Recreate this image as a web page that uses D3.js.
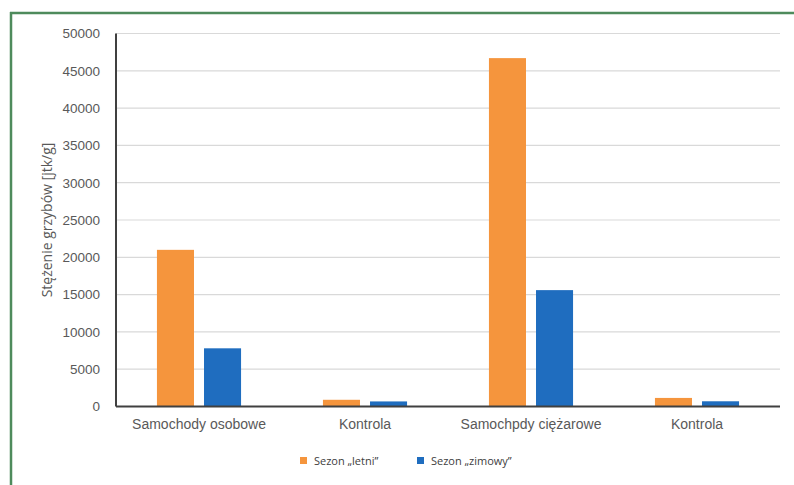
<!DOCTYPE html>
<html><head><meta charset="utf-8">
<script src="https://cdn.jsdelivr.net/npm/d3@7"></script>
<style>body{margin:0;background:#fff;}svg{display:block;font-family:"Open Sans","Liberation Sans",sans-serif;}</style>
</head><body><svg id="c" width="794" height="485"></svg>
<script>
const categories = ["Samochody osobowe", "Kontrola", "Samochpdy ciężarowe", "Kontrola "];
const seriesNames = ["Sezon \u201eletni\u201d", "Sezon \u201ezimowy\u201d"];
const summer = [21000, 900, 46700, 1150];
const winter = [7800, 680, 15600, 700];
const yTicks = [0, 5000, 10000, 15000, 20000, 25000, 30000, 35000, 40000, 45000, 50000];
const colors = ["#F5953D", "#1F6DBF"];

const svg = d3.select("#c");
// frame
svg.append("line").attr("x1",10).attr("x2",794).attr("y1",13).attr("y2",13).attr("stroke","#4E8B5C").attr("stroke-width",2.5);
svg.append("line").attr("x1",11).attr("x2",11).attr("y1",12).attr("y2",485).attr("stroke","#4E8B5C").attr("stroke-width",2.5);

const x0 = 116, x1 = 780, yTop = 33.5, yBot = 406.5;
const x = d3.scaleBand().domain(categories).range([x0, x1]).paddingInner(0).paddingOuter(0);
const y = d3.scaleLinear().domain([0, 50000]).range([yBot, yTop]);
const xs = d3.scaleBand().domain([0,1]).range([0, x.bandwidth()]).paddingInner(0.213).paddingOuter(0.87);

// grid
svg.append("g").selectAll("line").data(yTicks.filter(d=>d>0)).join("line")
  .attr("x1", x0).attr("x2", x1).attr("y1", d=>y(d)).attr("y2", d=>y(d))
  .attr("stroke", "#D9D9D9").attr("stroke-width", 1.2);

// y axis labels
const yAxis = d3.axisLeft(y).tickValues(yTicks).tickSize(0).tickPadding(16).tickFormat(d3.format("d"));
const ga = svg.append("g").attr("transform", `translate(${x0},0)`).call(yAxis);
ga.select(".domain").remove();
ga.selectAll("text").attr("fill", "#595959").style("font-size", "13.5px");

// bars
const data = categories.map((c,i)=>({c, v:[summer[i], winter[i]]}));
svg.append("g").selectAll("g").data(data).join("g")
  .attr("transform", d=>`translate(${x(d.c)},0)`)
  .selectAll("rect").data(d=>d.v.map((v,j)=>({v,j}))).join("rect")
  .attr("x", d=>xs(d.j)).attr("width", xs.bandwidth())
  .attr("y", d=>y(d.v)).attr("height", d=>yBot - y(d.v))
  .attr("fill", d=>colors[d.j]);

// axis lines
svg.append("line").attr("x1",x0).attr("x2",x0).attr("y1",yTop).attr("y2",yBot).attr("stroke","#404040").attr("stroke-width",2);
svg.append("line").attr("x1",x0).attr("x2",x1).attr("y1",yBot).attr("y2",yBot).attr("stroke","#404040").attr("stroke-width",2);

// x labels
const xAxis = d3.axisBottom(x).tickSize(0).tickPadding(13);
const gx = svg.append("g").attr("transform", `translate(0,${yBot})`).call(xAxis);
gx.select(".domain").remove();
gx.selectAll("text").attr("fill", "#595959").style("font-size", "14px");

// y title
svg.append("text").attr("transform", `translate(52,${(yTop+yBot)/2}) rotate(-90)`)
  .attr("text-anchor","middle").attr("fill","#595959").style("font-size","14px")
  .text("Stężenie grzybów [jtk/g]");

// legend
const legend = [{x:300, t:seriesNames[0], c:colors[0]}, {x:417, t:seriesNames[1], c:colors[1]}];
const lg = svg.append("g").selectAll("g").data(legend).join("g").attr("transform", d=>`translate(${d.x},461)`);
lg.append("rect").attr("x",0).attr("y",-4).attr("width",7).attr("height",7).attr("fill",d=>d.c);
lg.append("text").attr("x",14).attr("y",4).attr("fill","#404040").style("font-size","11px").text(d=>d.t);
</script></body></html>
